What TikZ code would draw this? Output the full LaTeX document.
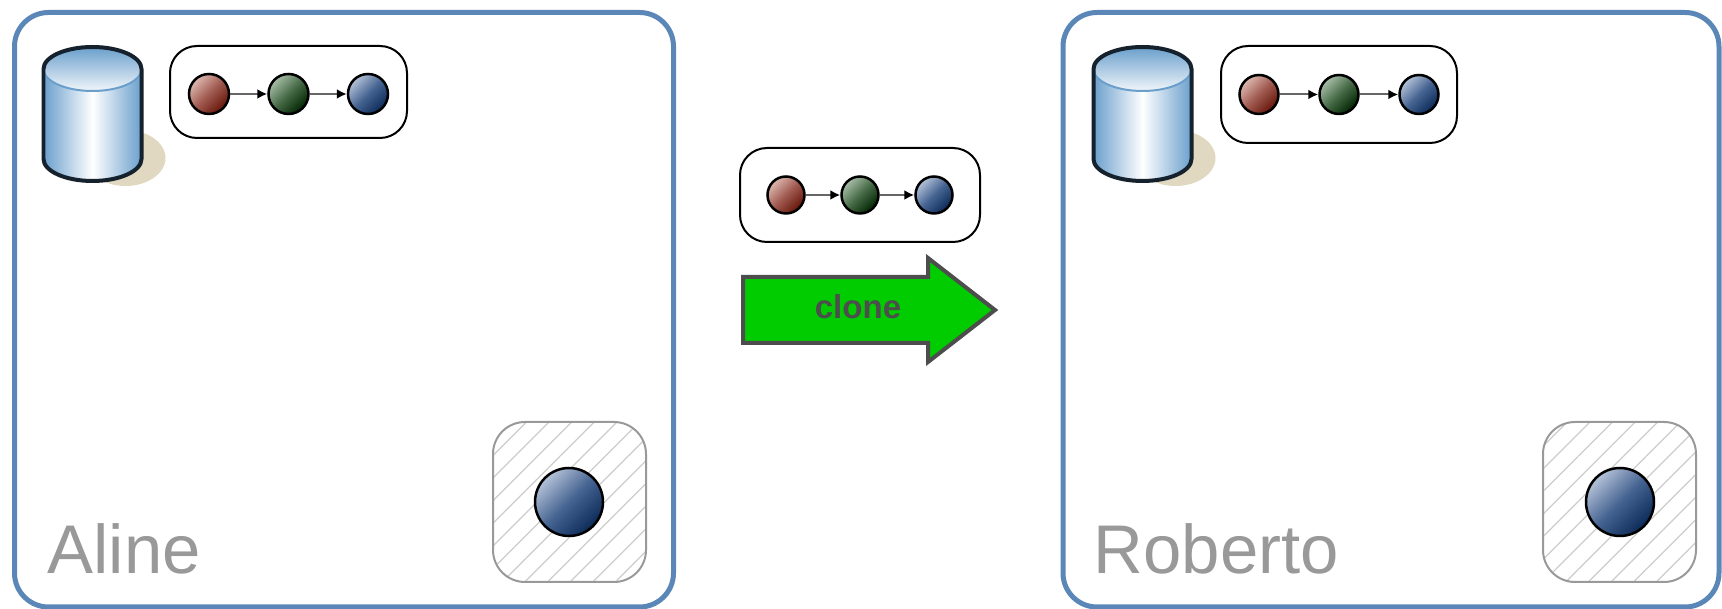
\documentclass[tikz,border=0pt]{standalone}
\usepackage{fontspec}
\setmainfont{Liberation Sans}
\usepackage{xcolor}
\usetikzlibrary{arrows.meta, patterns.meta}
\definecolor{panelblue}{HTML}{5B87B8}
\definecolor{sand}{HTML}{E0D8C0}
\definecolor{diskblue}{HTML}{6A9FCC}
\definecolor{diskline}{HTML}{15212C}
\definecolor{labelgray}{HTML}{999999}
\definecolor{clonegreen}{HTML}{00CC00}
\definecolor{arrowgray}{HTML}{4D4D4D}
\definecolor{redlight}{HTML}{DDB8B0}
\definecolor{redmid}{HTML}{A05A50}
\definecolor{reddark}{HTML}{661408}
\definecolor{greenlight}{HTML}{A8BEA8}
\definecolor{greenmid}{HTML}{466A46}
\definecolor{greendark}{HTML}{002400}
\definecolor{bluelight}{HTML}{B4C2D8}
\definecolor{bluemid}{HTML}{466492}
\definecolor{bluedark}{HTML}{0C2A58}
\tikzset{
panel/.style={draw=panelblue, line width=0.05cm, rounded corners=0.34cm, minimum width=6.59cm, minimum height=5.945cm},
owner/.style={anchor=base west, inner sep=0pt, text=labelgray, font=\fontsize{19.6}{22}\selectfont},
chainbox/.style={draw=black, line width=0.02cm, rounded corners=0.27cm, fill=white},
ball/.style={circle, draw=black, line width=0.025cm, inner sep=0pt},
redball/.style={ball, top color=redlight, bottom color=reddark, middle color=redmid, shading angle=45},
greenball/.style={ball, top color=greenlight, bottom color=greendark, middle color=greenmid, shading angle=45},
blueball/.style={ball, top color=bluelight, bottom color=bluedark, middle color=bluemid, shading angle=45},
link/.style={draw=black!60, line width=0.02cm, -{Latex[black,length=0.1cm,width=0.1cm]}},
hatchbox/.style={draw=black!40, line width=0.02cm, rounded corners=0.32cm, minimum width=1.53cm, minimum height=1.60cm,
  pattern={Lines[angle=45,distance=0.16cm,line width=0.012cm]}, pattern color=black!20},
disk/.pic={
  \fill[sand] (0.33,-0.89) ellipse (0.40 and 0.28);
  \shade[left color=diskblue, right color=diskblue, middle color=white] (-0.49,0) -- (-0.49,-0.90) arc (180:360:0.49 and 0.22) -- (0.49,0) arc (0:180:0.49 and 0.22) -- cycle;
  \shade[top color=diskblue, bottom color=diskblue!10!white] (0,0) ellipse (0.49 and 0.22);
  \draw[diskblue, line width=0.02cm] (-0.49,0) arc (180:360:0.49 and 0.22);
  \draw[diskline, line width=0.04cm] (-0.49,0) -- (-0.49,-0.90) arc (180:360:0.49 and 0.22) -- (0.49,0) arc (0:180:0.49 and 0.22) -- cycle;
}
}
\begin{document}
\begin{tikzpicture}
\useasboundingbox (0,0) rectangle (17.22,6.09);
% the two users
\node[panel] (aline) at (3.44,2.9925) {};
\node[panel, minimum width=6.56cm] (roberto) at (13.91,2.9925) {};
\node[owner] (alinename) at (0.47,0.35) {Aline};
\node[owner] (robertoname) at (10.93,0.35) {Roberto};
\pic at (0.925,5.40) {disk};
\pic at (11.425,5.40) {disk};
% the three change chains
\foreach \n/\x/\y/\by/\w/\h/\gap/\d in {left/2.885/5.15/5.17/2.37/0.92/0.795/0.40, mid/8.60/4.14/4.14/2.40/0.94/0.74/0.37, right/13.39/5.145/5.145/2.36/0.97/0.80/0.39}{
\node[chainbox, minimum width=\w cm, minimum height=\h cm] (\n box) at (\x,\by) {};
\node[greenball, minimum size=\d cm] (\n b) at (\x,\y) {};
\node[redball, minimum size=\d cm, xshift=-\gap cm] (\n a) at (\x,\y) {};
\node[blueball, minimum size=\d cm, xshift=\gap cm] (\n c) at (\x,\y) {};
\draw[link] (\n a) -- (\n b);
\draw[link] (\n b) -- (\n c);
}
% clone arrow
\draw[draw=arrowgray, fill=clonegreen, line width=0.04cm, line join=miter] (7.43,3.32) -- (9.28,3.32) -- (9.28,3.51) -- (9.95,2.99) -- (9.28,2.47) -- (9.28,2.66) -- (7.43,2.66) -- cycle;
\node[text=arrowgray, inner sep=0pt, font=\fontsize{9.4}{11}\selectfont\bfseries] (clonelabel) at (8.58,3.02) {clone};
% the working copies
\node[hatchbox] (alinespot) at (5.695,1.07) {};
\node[hatchbox] (robertospot) at (16.195,1.07) {};
\node[blueball, minimum size=0.68cm] (alinehead) at (5.69,1.07) {};
\node[blueball, minimum size=0.68cm] (robertohead) at (16.20,1.07) {};
\end{tikzpicture}
\end{document}
